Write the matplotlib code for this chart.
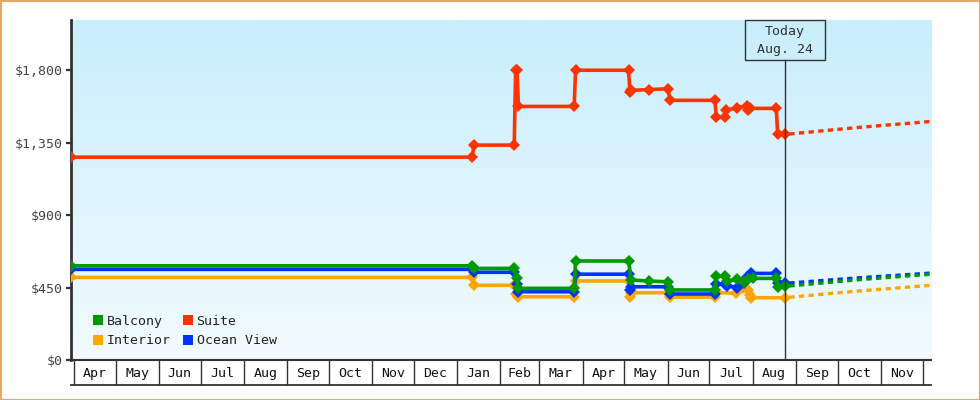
import matplotlib
matplotlib.use("Agg")
import matplotlib.pyplot as plt
import matplotlib.dates as mdates
from matplotlib.patches import Rectangle, Patch
from matplotlib.colors import LinearSegmentedColormap
from matplotlib.ticker import FixedLocator, FuncFormatter
import matplotlib.transforms as mtransforms
import numpy as np
import pandas as pd

# ---------------- data ----------------
suite_dates = ["2024-03-30", "2025-01-12", "2025-01-13", "2025-02-11", "2025-02-12", "2025-02-13",
               "2025-02-14", "2025-03-26", "2025-03-27", "2025-05-04", "2025-05-05", "2025-05-06",
               "2025-05-19", "2025-06-01", "2025-06-03", "2025-07-05", "2025-07-06", "2025-07-12",
               "2025-07-13", "2025-07-21", "2025-07-28", "2025-07-29", "2025-07-30", "2025-08-18",
               "2025-08-19", "2025-08-24"]
suite_vals = [1260, 1260, 1335, 1335, 1800, 1800, 1575, 1575, 1800, 1800, 1665, 1675,
              1680, 1685, 1613, 1613, 1507, 1507, 1552, 1567, 1580, 1550, 1563, 1563,
              1401, 1401]

balcony_dates = ["2024-03-30", "2025-01-12", "2025-01-13", "2025-02-11", "2025-02-13", "2025-02-14",
                 "2025-03-26", "2025-03-27", "2025-05-04", "2025-05-06", "2025-05-19", "2025-06-01",
                 "2025-06-03", "2025-07-05", "2025-07-06", "2025-07-12", "2025-07-14", "2025-07-21",
                 "2025-07-26", "2025-07-29", "2025-08-01", "2025-08-18", "2025-08-19", "2025-08-24"]
balcony_vals = [585, 585, 569, 569, 511, 445, 445, 615, 615, 497, 490, 486,
                435, 435, 520, 520, 488, 503, 486, 503, 507, 507, 455, 457]

ocean_dates = ["2024-03-30", "2025-01-12", "2025-01-13", "2025-02-11", "2025-02-13", "2025-02-14",
               "2025-03-26", "2025-03-27", "2025-05-04", "2025-05-05", "2025-05-06", "2025-06-01",
               "2025-06-03", "2025-07-05", "2025-07-06", "2025-07-12", "2025-07-14", "2025-07-21",
               "2025-07-26", "2025-07-28", "2025-07-31", "2025-08-18", "2025-08-19", "2025-08-24"]
ocean_vals = [563, 563, 545, 545, 470, 424, 424, 533, 533, 435, 455, 455,
              410, 410, 470, 470, 462, 450, 480, 515, 538, 538, 476, 476]

interior_dates = ["2024-03-30", "2025-01-12", "2025-01-13", "2025-02-11", "2025-02-12", "2025-02-14",
                  "2025-03-26", "2025-03-27", "2025-05-04", "2025-05-05", "2025-05-06", "2025-06-01",
                  "2025-06-03", "2025-07-05", "2025-07-06", "2025-07-20", "2025-07-25", "2025-07-29",
                  "2025-07-30", "2025-07-31", "2025-08-24"]
interior_vals = [513, 513, 464, 464, 410, 393, 393, 491, 491, 389, 418, 418,
                 391, 391, 420, 414, 449, 435, 404, 387, 387]

forecast_dates = ["2025-08-24", "2025-10-15", "2025-12-07"]
suite_fc = [1401, 1444, 1482]
balcony_fc = [457, 498, 533]
ocean_fc = [476, 510, 540]
interior_fc = [387, 428, 464]

month_labels = ["Apr", "May", "Jun", "Jul", "Aug", "Sep", "Oct", "Nov", "Dec", "Jan",
                "Feb", "Mar", "Apr", "May", "Jun", "Jul", "Aug", "Sep", "Oct", "Nov"]
y_ticks = [0, 450, 900, 1350, 1800]
today = "2025-08-24"
today_label = "Today\nAug. 24"

series = [
    ("Interior", interior_dates, interior_vals, interior_fc, "#ffa500"),
    ("Ocean View", ocean_dates, ocean_vals, ocean_fc, "#0033ff"),
    ("Balcony", balcony_dates, balcony_vals, balcony_fc, "#009900"),
    ("Suite", suite_dates, suite_vals, suite_fc, "#ff3300"),
]

# ---------------- figure ----------------
plt.rcParams["font.family"] = ["DejaVu Sans Mono", "DejaVu Sans"]
FS = 9.5
DARK = "#333333"

fig = plt.figure(figsize=(9.8, 4.0), dpi=100)
fig.patch.set_facecolor("white")
ax = fig.add_axes([71 / 980, 40 / 400, 860 / 980, 340 / 400])

cmap = LinearSegmentedColormap.from_list("bg", ["#f2fbff", "#c8eefc"])
grad = np.linspace(0, 1, 256).reshape(-1, 1)
ax.imshow(grad, extent=[0, 1, 0, 1], transform=ax.transAxes, aspect="auto",
          cmap=cmap, origin="lower", zorder=0, interpolation="bilinear")

for name, d, v, fc, col in series:
    dd = pd.to_datetime(d)
    ax.plot(dd, v, color=col, lw=2.6, marker="D", ms=5.8, mew=0,
            solid_joinstyle="miter", zorder=3)
    ax.plot(pd.to_datetime(forecast_dates), fc, color=col, lw=2.4,
            linestyle=(1.5, (1.6, 1.3)), zorder=3)

xmin = pd.Timestamp("2024-03-30")
xmax = pd.Timestamp("2025-12-07")
ax.set_xlim(xmin, xmax)
ax.set_ylim(0, 2112)

# spines
for s in ["top", "right"]:
    ax.spines[s].set_visible(False)
ax.spines["left"].set_color(DARK)
ax.spines["left"].set_linewidth(2)
ax.spines["bottom"].set_color(DARK)
ax.spines["bottom"].set_linewidth(1.5)

# y axis
ax.set_yticks(y_ticks)
ax.yaxis.set_major_formatter(FuncFormatter(lambda v, p: f"${v:,.0f}"))
ax.tick_params(axis="y", length=3.8, width=1.6, color=DARK, labelcolor="#444444",
               labelsize=FS, pad=2)

# x axis: month boxes
month_starts = pd.date_range("2024-04-01", "2025-12-01", freq="MS")
ax.xaxis.set_major_locator(FixedLocator(mdates.date2num(month_starts)))
ax.xaxis.set_major_formatter(FuncFormatter(lambda v, p: ""))
mids = [mdates.date2num(month_starts[i]) + (mdates.date2num(month_starts[i + 1]) -
        mdates.date2num(month_starts[i])) / 2 for i in range(len(month_labels))]
ax.xaxis.set_minor_locator(FixedLocator(mids))
ax.xaxis.set_minor_formatter(FuncFormatter(
    lambda v, p: month_labels[mids.index(v)] if v in mids else ""))
ax.tick_params(axis="x", which="major", length=18, width=1, color=DARK, direction="out")
ax.tick_params(axis="x", which="minor", length=0, labelsize=FS, labelcolor="#111111", pad=5)
ax.plot([0, 1], [-25 / 340, -25 / 340], transform=ax.transAxes, color=DARK, lw=1.3,
        clip_on=False, zorder=5)

# today marker
tnum = mdates.date2num(pd.Timestamp(today))
trans = mtransforms.blended_transform_factory(ax.transData, ax.transAxes)
box_h = 40 / 340
ax.plot([tnum, tnum], [0, 1 - box_h], transform=trans, color=DARK, lw=1, zorder=4)
px_per_day = (860) / (mdates.date2num(xmax) - mdates.date2num(xmin))
half_w = 40 / px_per_day
ax.add_patch(Rectangle((tnum - half_w, 1 - box_h), 2 * half_w, box_h, transform=trans,
                       fill=False, ec=DARK, lw=1, zorder=5, clip_on=False))
l1, l2 = today_label.split("\n")
ax.text(tnum, 1 - 12 / 340, l1, transform=trans, ha="center", va="center",
        fontsize=FS, color=DARK, zorder=6)
ax.text(tnum, 1 - 30 / 340, l2, transform=trans, ha="center", va="center",
        fontsize=FS, color=DARK, zorder=6)

# legend
cols = {n: c for n, _, _, _, c in series}
order = ["Balcony", "Interior", "Suite", "Ocean View"]
handles = [Patch(facecolor=cols[n], edgecolor="none", label=n) for n in order]
leg = ax.legend(handles=handles, ncol=2, loc="lower left", frameon=False,
                bbox_to_anchor=(0.0167, 0.014), fontsize=FS, handlelength=0.76,
                handleheight=0.76, handletextpad=0.28, columnspacing=0.9,
                labelspacing=0.5, borderaxespad=0.2)
for t in leg.get_texts():
    t.set_color("#222222")

# outer border
fig.patches.append(Rectangle((0, 0), 1, 1, transform=fig.transFigure, fill=False,
                             ec="#e8a865", lw=2.2))

fig.savefig("out.png", dpi=100)
